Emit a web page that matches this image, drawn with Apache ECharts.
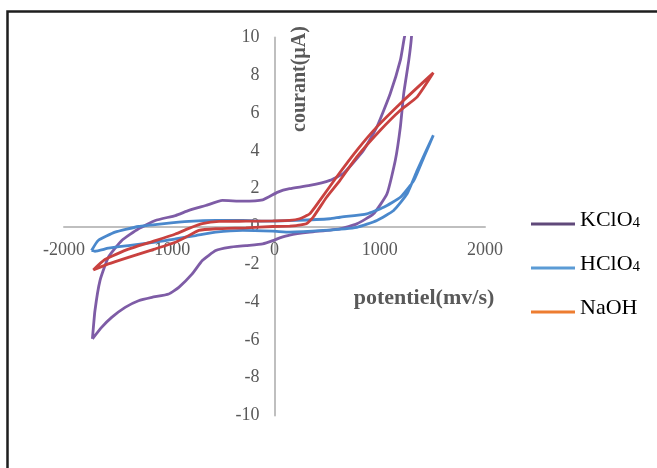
<!DOCTYPE html>
<html><head><meta charset="utf-8">
<script src="https://cdn.jsdelivr.net/npm/echarts@6/dist/echarts.min.js"></script>
<style>html,body{margin:0;padding:0;background:#fff}#c{width:657px;height:468px}</style>
</head><body><div id="c"></div>
<script>
// KClO4 loop (potential mV, current µA) in scan order
const kclo4Potential = [-1730,-1706,-1658,-1579,-1451,-1292,-1132,-941,-813,-654,-495,-303,-112,32,144,335,526,654,845,973,1100,1196,1234,1320,1301,1276,1228,1196,1148,1069,941,782,622,335,144,50,-16,-112,-271,-431,-558,-686,-782,-909,-1005,-1165,-1292,-1419,-1547,-1643,-1730];
const kclo4Current   = [-5.95,-4.46,-2.86,-1.63,-0.74,-0.12,0.32,0.58,0.85,1.11,1.38,1.34,1.41,1.82,2.0,2.17,2.44,2.8,4.03,5.27,7.04,8.8,10,12,10,8.8,7.04,5.27,3.5,1.73,0.67,0.14,-0.12,-0.3,-0.45,-0.6,-0.75,-0.92,-1.01,-1.1,-1.27,-1.8,-2.51,-3.22,-3.57,-3.75,-3.93,-4.28,-4.81,-5.34,-5.95];
// HClO4 loop
const hclo4Potential = [-1738,-1675,-1515,-1292,-1069,-813,-558,-303,-48,207,526,622,877,1037,1196,1324,1420,1509,1356,1260,1132,973,782,462,144,-16,-303,-558,-749,-941,-1132,-1388,-1579,-1706,-1738];
const hclo4Current   = [-1.27,-0.74,-0.3,0,0.14,0.27,0.32,0.32,0.28,0.32,0.41,0.49,0.67,1.02,1.55,2.44,3.68,4.83,2.97,1.73,0.85,0.32,-0.04,-0.21,-0.3,-0.25,-0.21,-0.3,-0.48,-0.65,-0.83,-1.01,-1.15,-1.31,-1.27];
// NaOH loop
const naohPotential = [-1722,-1611,-1388,-1132,-941,-813,-686,-526,-271,-16,144,239,335,431,590,782,973,1228,1509,1356,1196,1005,782,622,495,367,303,207,144,-16,-271,-558,-718,-845,-941,-1132,-1388,-1579,-1722];
const naohCurrent   = [-2.3,-1.75,-1.2,-0.75,-0.4,-0.1,0.15,0.27,0.28,0.3,0.32,0.41,0.67,1.38,2.62,4.03,5.27,6.68,8.13,6.86,6.15,5.09,3.68,2.44,1.55,0.49,0.14,0.05,0.02,0,-0.07,-0.12,-0.21,-0.57,-0.83,-1.18,-1.63,-1.98,-2.3];

const seriesNames = ['KClO4','HClO4','NaOH'];
const xTicks = {min:-2000, max:2000, interval:1000};
const yTicks = {min:-10, max:10, interval:2};

const pair = (xs, ys) => xs.map((x, i) => [x, ys[i]]);
const lineColors = ['#7e5ca6', '#4a88cc', '#c9413f'];
const legendColors = ['#60497a', '#5b9bd5', '#ed7d31'];
const datasets = [pair(kclo4Potential, kclo4Current), pair(hclo4Potential, hclo4Current), pair(naohPotential, naohCurrent)];

const W = 657, H = 468;
const G = {left: 64, right: 172, top: 37.5, bottom: 52.5};
const gw = W - G.left - G.right, gh = H - G.top - G.bottom;
// shift axes inward so they cross at (0,0), labels travel with them
const xOff = -gh * (0 - yTicks.min) / (yTicks.max - yTicks.min);
const yOff = -gw * (0 - xTicks.min) / (xTicks.max - xTicks.min);

const serif = 'Liberation Serif';
const chart = echarts.init(document.getElementById('c'), null, {renderer:'canvas'});
chart.setOption({
  animation: false,
  backgroundColor: '#fff',
  grid: {left: G.left, right: G.right, top: G.top, bottom: G.bottom, containLabel: false},
  xAxis: {
    type: 'value', position: 'bottom', offset: xOff,
    min: xTicks.min, max: xTicks.max, interval: xTicks.interval,
    axisLine: {onZero: false, lineStyle: {color: '#bfbfbf', width: 2}},
    axisTick: {show: false}, splitLine: {show: false},
    axisLabel: {margin: 15, color: '#595959', fontFamily: serif, fontSize: 18, formatter: v => String(v)}
  },
  yAxis: {
    type: 'value', position: 'left', offset: yOff,
    min: yTicks.min, max: yTicks.max, interval: yTicks.interval,
    axisLine: {onZero: false, lineStyle: {color: '#bfbfbf', width: 2}},
    axisTick: {show: false}, splitLine: {show: false},
    axisLabel: {margin: 15, color: '#595959', fontFamily: serif, fontSize: 18, formatter: v => String(v)}
  },
  legend: {
    orient: 'vertical', left: 526, top: 204, itemWidth: 44, itemHeight: 3, itemGap: 14,
    icon: 'rect',
    data: seriesNames.map((n, i) => ({name: n, itemStyle: {color: legendColors[i]}})),
    formatter: n => n.endsWith('4') ? '{n|' + n.slice(0, -1) + '}{s|4}' : '{n|' + n + '}',
    textStyle: {
      color: '#000', fontFamily: serif, fontSize: 22, lineHeight: 22, padding: [0, 0, 8, 0],
      rich: {
        n: {fontFamily: serif, fontSize: 22, lineHeight: 22, color: '#000'},
        s: {fontFamily: serif, fontSize: 15, lineHeight: 14, verticalAlign: 'bottom', color: '#000'}
      }
    }
  },
  graphic: [
    {type: 'rect', silent: true, shape: {x: 7.5, y: 11.5, width: 700, height: 500},
     style: {fill: 'none', stroke: '#1e1e1e', lineWidth: 2.5}},
    {type: 'text', x: 300, y: 79, rotation: Math.PI / 2,
     style: {text: 'courant(µA)', font: 'bold 20px "Liberation Serif"', fill: '#595959', align: 'center', verticalAlign: 'middle'}},
    {type: 'text', x: 424, y: 298,
     style: {text: 'potentiel(mv/s)', font: 'bold 22px "Liberation Serif"', fill: '#595959', align: 'center', verticalAlign: 'middle'}}
  ],
  series: seriesNames.map((n, i) => ({
    name: n, type: 'line', data: datasets[i], smooth: 0.15, showSymbol: false, symbol: 'none',
    clip: true, lineStyle: {color: lineColors[i], width: 2.8}, itemStyle: {color: lineColors[i]}
  }))
});
</script></body></html>
